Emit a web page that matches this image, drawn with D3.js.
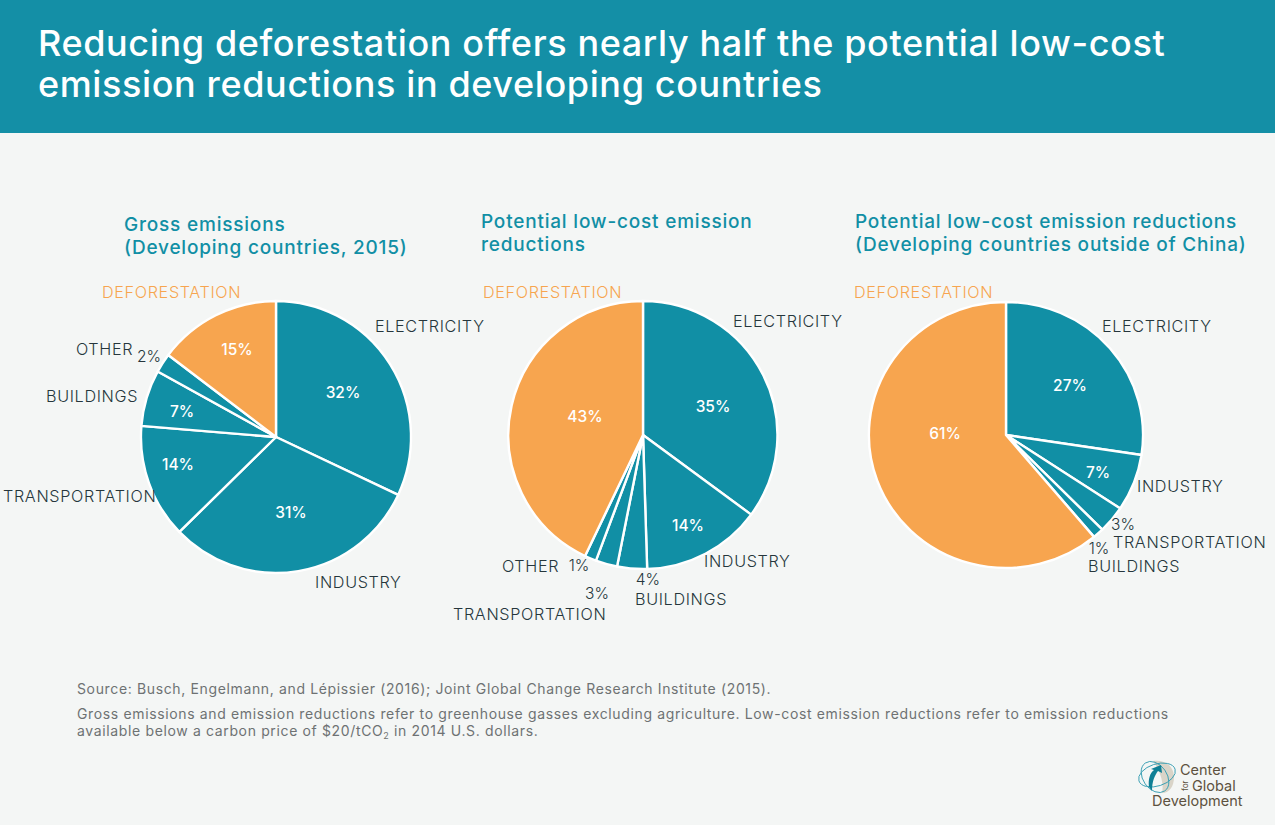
<!DOCTYPE html>
<html>
<head>
<meta charset="utf-8">
<script src="https://cdnjs.cloudflare.com/ajax/libs/d3/7.8.5/d3.min.js"></script>
<style>
    html, body { margin: 0; padding: 0; background: #f4f6f5; }
    svg { display: block; }
    text { font-family: Inter, "Open Sans", sans-serif; }
</style>
</head>
<body>
<div id="chart"></div>
<script>
// values, the printed percentages are these rounded
var grossNames = ["ELECTRICITY", "INDUSTRY", "TRANSPORTATION", "BUILDINGS", "OTHER", "DEFORESTATION"];
var grossValues = [32, 30.7, 13.6, 6.7, 2.3, 14.7];

var lowCostNames = ["ELECTRICITY", "INDUSTRY", "BUILDINGS", "TRANSPORTATION", "OTHER", "DEFORESTATION"];
var lowCostValues = [35.2, 14.4, 3.6, 2.6, 1.4, 43];

var noChinaNames = ["ELECTRICITY", "INDUSTRY", "TRANSPORTATION", "BUILDINGS", "DEFORESTATION"];
var noChinaValues = [27.4, 6.9, 3.3, 1.3, 61.1];

var titleLines = ["Reducing deforestation offers nearly half the potential low-cost",
    "emission reductions in developing countries"];

var width = 1275, height = 825;
var teal = "#118fa5", orange = "#f7a54f", ink = "#26363c";

var svg = d3.select("#chart").append("svg")
    .attr("width", width)
    .attr("height", height);

svg.append("rect").attr("width", width).attr("height", height).attr("fill", "#f4f6f5");
svg.append("rect").attr("width", width).attr("height", 133).attr("fill", "#148fa6");

svg.selectAll(".title")
    .data(titleLines)
    .enter().append("text")
    .attr("class", "title")
    .attr("x", 38)
    .attr("y", function (d, i) { return 56 + i * 41; })
    .attr("fill", "#fff")
    .attr("font-size", 36)
    .attr("font-weight", 500)
    .attr("letter-spacing", 0.62)
    .text(function (d) { return d; });

// layout of each pie: centre, radius, then label spots in the order of the names
var panels = [
    {
        names: grossNames, values: grossValues,
        cx: 276, cy: 437, rx: 135, ry: 136,
        head: ["Gross emissions", "(Developing countries, 2015)"], headX: 124, headY: 231,
        nameX: [375, 315, 3, 46, 76, 102], nameY: [332, 588, 502, 402, 355, 298],
        pctX: [343, 291, 178, 182, 149, 237], pctY: [398, 518, 470, 417, 362, 355],
        inside: [true, true, true, true, false, true]
    },
    {
        names: lowCostNames, values: lowCostValues,
        cx: 643, cy: 435, rx: 134.5, ry: 134,
        head: ["Potential low-cost emission", "reductions"], headX: 481, headY: 228,
        nameX: [733, 704, 635, 453, 502, 483], nameY: [327, 567, 605, 620, 572, 298],
        pctX: [713, 688, 648, 597, 579, 585], pctY: [412, 531, 585, 599, 571, 422],
        inside: [true, true, false, false, false, true]
    },
    {
        names: noChinaNames, values: noChinaValues,
        cx: 1006, cy: 435, rx: 137, ry: 133,
        head: ["Potential low-cost emission reductions", "(Developing countries outside of China)"], headX: 855, headY: 228,
        nameX: [1102, 1137, 1113, 1088, 854], nameY: [332, 492, 548, 572, 298],
        pctX: [1070, 1098, 1123, 1099, 945], pctY: [391, 478, 530, 554, 439],
        inside: [true, true, false, false, true]
    }
];

var pie = d3.pie().sort(null).value(function (d) { return d; });
var arc = d3.arc().innerRadius(0).outerRadius(1);
var pct = d3.format(".0f");

panels.forEach(drawPanel);

function drawPanel(p) {
    var last = p.names.length - 1;

    var g = svg.append("g")
        .attr("transform", "translate(" + p.cx + "," + p.cy + ") scale(" + p.rx + "," + p.ry + ")");

    g.selectAll("path")
        .data(pie(p.values))
        .enter().append("path")
        .attr("d", arc)
        .attr("fill", function (d, i) { return i == last ? orange : teal; })
        .attr("stroke", "#fff")
        .attr("stroke-width", 2.4)
        .attr("vector-effect", "non-scaling-stroke")
        .attr("stroke-linejoin", "round");

    svg.selectAll(null)
        .data(p.head)
        .enter().append("text")
        .attr("x", p.headX)
        .attr("y", function (d, i) { return p.headY + i * 23; })
        .attr("fill", teal)
        .attr("font-size", 19)
        .attr("font-weight", 500)
        .attr("letter-spacing", 0.8)
        .text(function (d) { return d; });

    svg.selectAll(null)
        .data(p.names)
        .enter().append("text")
        .attr("x", function (d, i) { return p.nameX[i]; })
        .attr("y", function (d, i) { return p.nameY[i]; })
        .attr("fill", function (d, i) { return i == last ? orange : ink; })
        .attr("font-size", 16.2)
        .attr("font-weight", 300)
        .attr("letter-spacing", 0.65)
        .text(function (d) { return d; });

    svg.selectAll(null)
        .data(p.values)
        .enter().append("text")
        .attr("x", function (d, i) { return p.pctX[i]; })
        .attr("y", function (d, i) { return p.pctY[i]; })
        .attr("text-anchor", "middle")
        .attr("fill", function (d, i) { return p.inside[i] ? "#fff" : ink; })
        .attr("font-size", 15.5)
        .attr("font-weight", function (d, i) { return p.inside[i] ? 500 : 300; })
        .text(function (d) { return pct(d) + "%"; });
}

// notes under the charts
var notes = svg.append("g")
    .attr("fill", "#6e7273")
    .attr("font-size", 14)
    .attr("font-weight", 400)
    .attr("letter-spacing", 0.64);

notes.append("text").attr("x", 77).attr("y", 694)
    .text("Source: Busch, Engelmann, and Lépissier (2016); Joint Global Change Research Institute (2015).");
notes.append("text").attr("x", 77).attr("y", 719)
    .text("Gross emissions and emission reductions refer to greenhouse gasses excluding agriculture. Low-cost emission reductions refer to emission reductions");
var lastNote = notes.append("text").attr("x", 77).attr("y", 736);
lastNote.append("tspan").text("available below a carbon price of $20/tCO");
lastNote.append("tspan").attr("dy", 3).attr("font-size", 9).text("2");
lastNote.append("tspan").attr("dy", -3).text(" in 2014 U.S. dollars.");

// logo
var logo = svg.append("g").attr("transform", "translate(1137,760)");
logo.append("path")
    .attr("d", "M16,1 C30,-1 37,8 37,17 C37,27 32,33 25,33 C27,24 24,12 16,1 Z")
    .attr("fill", "#d9d4c8");
logo.append("ellipse").attr("cx", 20).attr("cy", 15).attr("rx", 19).attr("ry", 11)
    .attr("transform", "rotate(-18 20 15)")
    .attr("fill", "none").attr("stroke", "#3a9fb3").attr("stroke-width", 0.9);
logo.append("ellipse").attr("cx", 18).attr("cy", 17).attr("rx", 12).attr("ry", 17)
    .attr("transform", "rotate(-35 18 17)")
    .attr("fill", "none").attr("stroke", "#3a9fb3").attr("stroke-width", 0.9);
logo.append("path")
    .attr("d", "M12,27 C11,19 13,13 17,10 L14,9 L24,5 L25,13 L21,11 C18,15 15,21 15,31 Z")
    .attr("fill", "#0f7f95");

var logoText = svg.append("g")
    .attr("fill", "#5d5240")
    .attr("font-size", 14.5)
    .style("font-family", "'Open Sans', sans-serif");
logoText.append("text").attr("x", 1180).attr("y", 775).text("Center");
logoText.append("text").attr("x", 1192).attr("y", 791).text("Global");
logoText.append("text").attr("x", 1152).attr("y", 806).text("Development");
logoText.append("text")
    .attr("transform", "translate(1188,791) rotate(-90)")
    .attr("font-size", 8)
    .text("for");
</script>
</body>
</html>
